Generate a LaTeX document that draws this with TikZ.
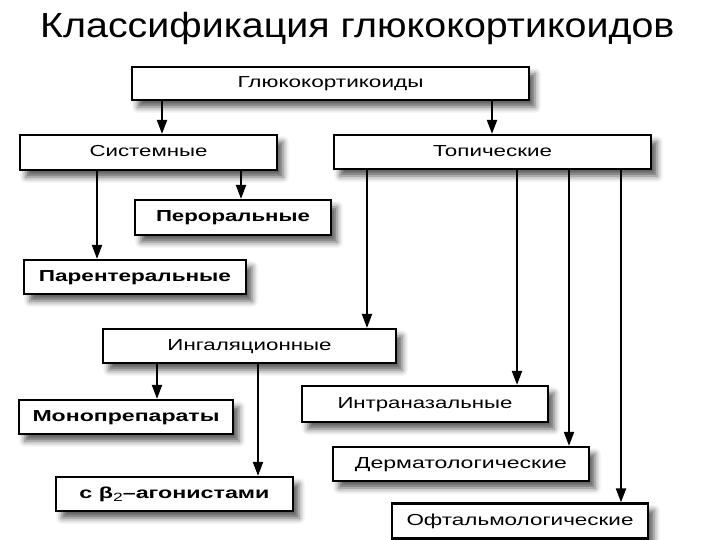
\documentclass[tikz,border=0pt]{standalone}
\usepackage{fontspec}
\setmainfont{Liberation Sans}
\usetikzlibrary{arrows.meta,shadows.blur}
\newcommand\fitw[2]{\resizebox{#1}{\height}{#2}}
\tikzset{
 box/.style={draw=black, line width=2.2bp, fill=white, inner sep=0pt,
   text height=11.5bp, text depth=3bp,
   font=\fontsize{16}{16}\selectfont,
   blur shadow={shadow xshift=6bp, shadow yshift=-7bp, shadow blur radius=6bp, shadow opacity=65}},
 bbox/.style={box, font=\fontsize{16}{16}\selectfont\bfseries},
 arr/.style={line width=2bp, -{Triangle[width=10bp,length=14bp]}},
}
\begin{document}
\begin{tikzpicture}[x=1bp,y=-1bp]
\useasboundingbox (0,0) rectangle (720,540);
\node[anchor=base west, font=\fontsize{35}{35}\selectfont, inner sep=0pt] (title) at (40,38) {\fitw{634bp}{Классификация глюкокортикоидов}};

\node[box, minimum width=397bp, minimum height=33bp] (g) at (330.5,83.5) {\fitw{186bp}{Глюкокортикоиды}};
\node[box, minimum width=257bp, minimum height=35bp] (sys) at (148.5,152.5) {\fitw{118bp}{Системные}};
\node[box, minimum width=317bp, minimum height=34bp] (top) at (492.5,152) {\fitw{119bp}{Топические}};
\node[bbox, minimum width=196bp, minimum height=35bp] (per) at (233,217.5) {\fitw{154bp}{Пероральные}};
\node[bbox, minimum width=222bp, minimum height=34bp] (par) at (135,277) {\fitw{192bp}{Парентеральные}};
\node[box, minimum width=293bp, minimum height=34bp] (ing) at (249.5,346) {\fitw{164bp}{Ингаляционные}};
\node[bbox, minimum width=214bp, minimum height=34bp] (mono) at (126,417) {\fitw{187bp}{Монопрепараты}};
\node[bbox, minimum width=237bp, minimum height=34bp] (beta) at (174.5,494) {\fitw{190bp}{с β\raisebox{-0.35ex}{\mdseries\fontsize{12}{12}\selectfont 2}–агонистами}};
\node[box, minimum width=246bp, minimum height=36bp] (intra) at (425,404) {\fitw{175bp}{Интраназальные}};
\node[box, minimum width=256bp, minimum height=34bp] (derm) at (461,464) {\fitw{212bp}{Дерматологические}};
\node[box, minimum width=256bp, minimum height=35bp] (oft) at (520,521) {\fitw{227bp}{Офтальмологические}};

\draw[arr] (g.south -| 162,0) -- (sys.north -| 162,0);
\draw[arr] (g.south -| 492,0) -- (top.north -| 492,0);
\draw[arr] (sys.south -| 241,0) -- (per.north -| 241,0);
\draw[arr] (sys.south -| 97,0) -- (par.north -| 97,0);
\draw[arr] (top.south -| 367,0) -- (ing.north -| 367,0);
\draw[arr] (top.south -| 517,0) -- (intra.north -| 517,0);
\draw[arr] (top.south -| 569,0) -- (derm.north -| 569,0);
\draw[arr] (top.south -| 621,0) -- (oft.north -| 621,0);
\draw[arr] (ing.south -| 157,0) -- (mono.north -| 157,0);
\draw[arr] (ing.south -| 258,0) -- (beta.north -| 258,0);
\end{tikzpicture}
\end{document}
